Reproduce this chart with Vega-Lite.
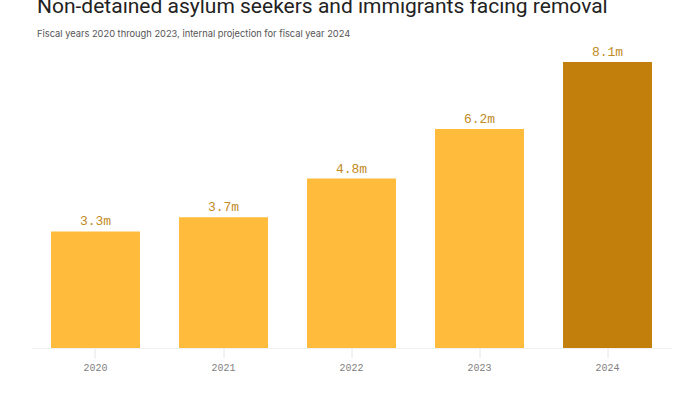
{
  "$schema": "https://vega.github.io/schema/vega-lite/v6.json",
  "autosize": "none",
  "width": 640,
  "height": 286,
  "padding": {"left": 31.5, "top": 62, "right": 28.5, "bottom": 46},
  "background": "white",
  "title": {
    "text": "Non-detained asylum seekers and immigrants facing removal",
    "subtitle": "Fiscal years 2020 through 2023, internal projection for fiscal year 2024",
    "anchor": "start",
    "frame": "group",
    "dx": 5.5,
    "offset": 7,
    "font": "Roboto",
    "fontSize": 21,
    "fontWeight": 400,
    "color": "#222222",
    "subtitleFont": "Inter",
    "subtitleFontSize": 9.3,
    "subtitleColor": "#555555",
    "subtitlePadding": 13
  },
  "data": {
    "values": [
      {"year": "2020", "value": 3.3, "label": "3.3m", "type": "actual"},
      {"year": "2021", "value": 3.7, "label": "3.7m", "type": "actual"},
      {"year": "2022", "value": 4.8, "label": "4.8m", "type": "actual"},
      {"year": "2023", "value": 6.2, "label": "6.2m", "type": "actual"},
      {"year": "2024", "value": 8.1, "label": "8.1m", "type": "projection"}
    ]
  },
  "encoding": {
    "x": {
      "field": "year",
      "type": "nominal",
      "scale": {"paddingInner": 0.305, "paddingOuter": 0.1525},
      "axis": {
        "title": null,
        "labelAngle": 0,
        "labelFont": "Liberation Mono",
        "labelFontSize": 10,
        "labelColor": "#808080",
        "labelPadding": 4,
        "tickColor": "#e6e6e6",
        "tickSize": 10,
        "domain": true,
        "domainColor": "#f0f0f0"
      }
    },
    "y": {
      "field": "value",
      "type": "quantitative",
      "scale": {"domain": [0, 8.1], "nice": false},
      "axis": null
    }
  },
  "layer": [
    {
      "mark": {"type": "bar"},
      "encoding": {
        "color": {
          "field": "type",
          "type": "nominal",
          "scale": {"domain": ["actual", "projection"], "range": ["#FFBB3B", "#C27F0B"]},
          "legend": null
        }
      }
    },
    {
      "mark": {"type": "text", "dy": -3, "baseline": "bottom", "font": "Liberation Mono", "fontSize": 13, "color": "#BF8A24"},
      "encoding": {"text": {"field": "label"}}
    }
  ],
  "config": {"view": {"stroke": null}}
}
